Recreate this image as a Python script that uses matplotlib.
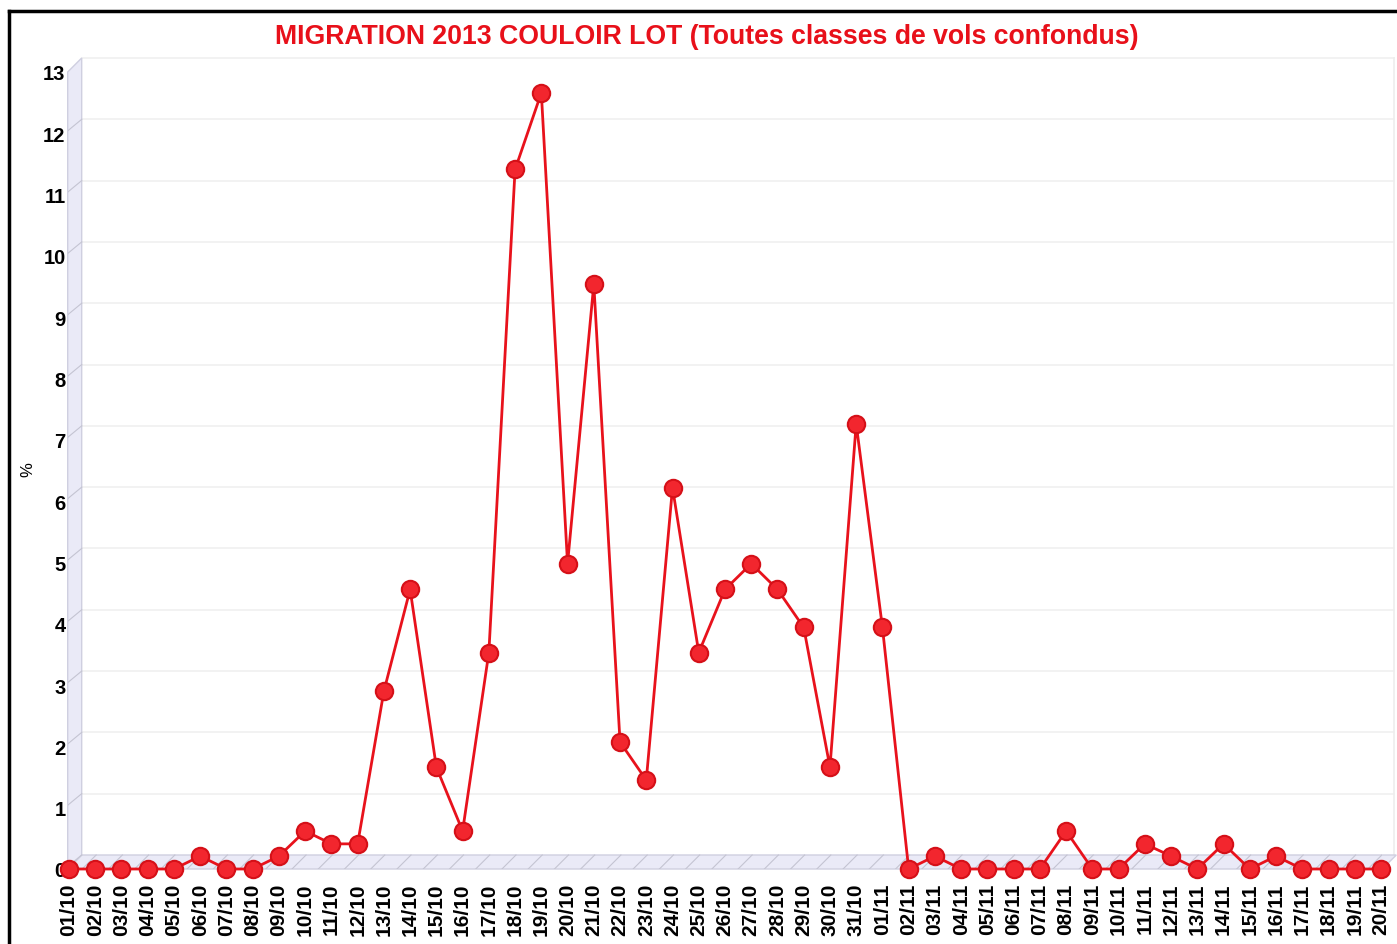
import numpy as np
import matplotlib
matplotlib.use("Agg")
import matplotlib.pyplot as plt
import matplotlib.transforms as mtransforms
from matplotlib.patches import Polygon
from matplotlib.lines import Line2D

# daily share of birds counted (%), 01/10 -> 20/11
dates = ["01/10", "02/10", "03/10", "04/10", "05/10", "06/10", "07/10", "08/10",
         "09/10", "10/10", "11/10", "12/10", "13/10", "14/10", "15/10", "16/10",
         "17/10", "18/10", "19/10", "20/10", "21/10", "22/10", "23/10", "24/10",
         "25/10", "26/10", "27/10", "28/10", "29/10", "30/10", "31/10",
         "01/11", "02/11", "03/11", "04/11", "05/11", "06/11", "07/11", "08/11",
         "09/11", "10/11", "11/11", "12/11", "13/11", "14/11", "15/11", "16/11",
         "17/11", "18/11", "19/11", "20/11"]
pct = [0, 0, 0, 0, 0, 0.21, 0, 0,
       0.21, 0.62, 0.41, 0.41, 2.90, 4.56, 1.66, 0.62,
       3.53, 11.41, 12.66, 4.98, 9.54, 2.07, 1.45, 6.22,
       3.53, 4.56, 4.98, 4.56, 3.94, 1.66, 7.26,
       3.94, 0, 0.21, 0, 0, 0, 0, 0.62,
       0, 0, 0.41, 0.21, 0, 0.41, 0, 0.21,
       0, 0, 0, 0]
yticks = list(range(0, 14))

W, H = 1397, 945
DX, DY = 14, 14  # fake 3d depth, in pixels
wall_col = "#eaeaf7"
edge_col = "#cfcfe0"

fig = plt.figure(figsize=(W / 100, H / 100), dpi=100)
left, right = 67.7, 1382.3
top, bottom = 73, 870
ax = fig.add_axes([left / W, 1 - bottom / H, (right - left) / W, (bottom - top) / H])
ax.set_facecolor("none")
ax.set_xlim(-0.05, len(dates) - 1 + 0.05)
ax.set_ylim(0, 13)
for s in ax.spines.values():
    s.set_visible(False)

x = np.arange(len(dates))
x0, x1 = ax.get_xlim()
back = mtransforms.offset_copy(ax.transData, fig=fig, x=DX, y=DY, units="dots")
ident = mtransforms.IdentityTransform()

def to_px(pts, tr):
    return tr.transform(np.array(pts, dtype=float))

# back wall gridlines
for k in yticks[1:]:
    ax.plot([x0, x1 - 0.1], [k, k], color="#f0f0f0", lw=1.2, transform=back,
            clip_on=False, zorder=0)
ax.plot([x1 - 0.1, x1 - 0.1], [0, 13], color="#eeeeee", lw=1.2, transform=back,
        clip_on=False, zorder=0)

# floor
f = to_px([(x0, 0), (x1, 0)], ax.transData)
b = to_px([(x0, 0), (x1, 0)], back)
floor = Polygon(np.vstack([f, b[::-1]]), closed=True, transform=ident,
                facecolor=wall_col, edgecolor=edge_col, lw=1, zorder=1, clip_on=False)
ax.add_artist(floor)
# side wall
f = to_px([(x0, 0), (x0, 13)], ax.transData)
b = to_px([(x0, 0), (x0, 13)], back)
wall = Polygon(np.vstack([f, b[::-1]]), closed=True, transform=ident,
               facecolor=wall_col, edgecolor=edge_col, lw=1, zorder=1, clip_on=False)
ax.add_artist(wall)

# little depth ticks on floor and wall
for i in range(len(dates) - 1):
    p = to_px([(i + 0.5, 0)], ax.transData)[0]
    ax.add_artist(Line2D([p[0], p[0] + DX], [p[1], p[1] + DY], transform=ident,
                         color="#c4c4d2", lw=0.8, zorder=1.5))
for k in yticks:
    p = to_px([(x0, k)], ax.transData)[0]
    ax.add_artist(Line2D([p[0] - 3, p[0] + DX], [p[1], p[1] + DY], transform=ident,
                         color="#c4c4d2", lw=0.8, zorder=1.5))

# the series
ax.plot(x, pct, color="#e8121c", lw=2, zorder=3, clip_on=False)
ax.plot(x, pct, "o", ms=12.5, mfc="#f2262e", mec="#d51018", mew=1.5, zorder=4, clip_on=False)

ax.set_xticks(x)
ax.set_xticklabels(dates, rotation=90, fontsize=15, fontweight="bold",
                   family="Liberation Sans", va="top")
ax.set_yticks(yticks)
ax.set_yticklabels([str(v) for v in yticks], fontsize=14.5, fontweight="bold",
                   family="Liberation Sans")
ax.tick_params(axis="both", length=0)
ax.tick_params(axis="x", pad=10)
ax.tick_params(axis="y", pad=1.5)

fig.text(28 / W, 1 - 470 / H, "%", rotation=90, fontsize=12, family="Liberation Sans",
         ha="center", va="center")
fig.text(707 / W, 1 - 37 / H, "MIGRATION 2013 COULOIR LOT (Toutes classes de vols confondus)",
         color="#e8101a", fontsize=19.2, fontweight="bold", family="Liberation Sans",
         ha="center", va="center")

# outer frame
fig.add_artist(Line2D([9 / W, 1], [1 - 12 / H, 1 - 12 / H], transform=fig.transFigure,
                      color="black", lw=2.5))
fig.add_artist(Line2D([9 / W, 9 / W], [0, 1 - 12 / H], transform=fig.transFigure,
                      color="black", lw=2.5))

fig.savefig("out.png", dpi=100)
